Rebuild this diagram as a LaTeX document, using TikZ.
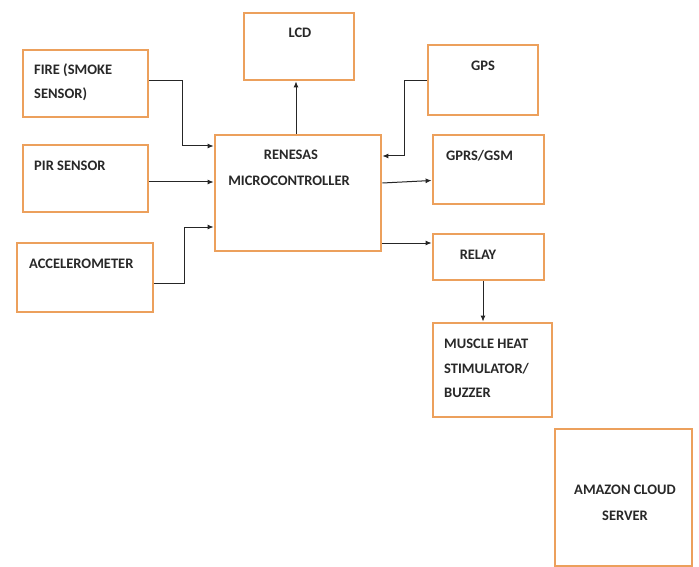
\documentclass[tikz,border=0pt]{standalone}
\usepackage{fontspec}
\setmainfont{Carlito}
\usetikzlibrary{arrows.meta,calc}
\definecolor{boxorange}{RGB}{236,160,92}
\definecolor{txtgray}{RGB}{40,40,40}
\begin{document}
\begin{tikzpicture}[x=1pt,y=-1pt,
  blk/.style={draw=boxorange,line width=2.8pt,fill=white,rectangle,inner sep=0pt},
  lbl/.style={font=\fontsize{14.5}{16}\selectfont\bfseries,text=txtgray,inner sep=0pt},
  lbll/.style={lbl,anchor=west},
  arr/.style={draw=black!85,line width=1pt,-{Latex[length=6pt,width=5pt]}}]
\useasboundingbox[fill=white] (0,0) rectangle (699,567);
% boxes
\node[blk,minimum width=110pt,minimum height=67pt] (lcd) at (299,46.5) {};
\node[blk,minimum width=125pt,minimum height=67pt] (fire) at (85.5,83.5) {};
\node[blk,minimum width=125pt,minimum height=67pt] (pir) at (85.5,178.5) {};
\node[blk,minimum width=136pt,minimum height=69pt] (acc) at (85,277.5) {};
\node[blk,minimum width=166pt,minimum height=116pt] (mcu) at (298,193) {};
\node[blk,minimum width=110pt,minimum height=70pt] (gps) at (483,80) {};
\node[blk,minimum width=111pt,minimum height=69pt] (gprs) at (488.5,169.5) {};
\node[blk,minimum width=111pt,minimum height=46pt] (relay) at (488.5,257) {};
\node[blk,minimum width=119pt,minimum height=94pt] (musc) at (492.5,370) {};
\node[blk,minimum width=137pt,minimum height=137pt] (aws) at (623.5,497.5) {};
% labels
\node[lbl] (lcdt) at (300,33) {LCD};
\node[lbll] (firet1) at (34,70) {FIRE (SMOKE};
\node[lbll] (firet2) at (34,94) {SENSOR)};
\node[lbll] (pirt) at (34,166) {PIR SENSOR};
\node[lbll] (acct) at (29,264) {ACCELEROMETER};
\node[lbl] (mcut1) at (291,155) {RENESAS};
\node[lbl] (mcut2) at (289,181) {MICROCONTROLLER};
\node[lbl] (gpst) at (483,66) {GPS};
\node[lbl] (gprst) at (479.5,156) {GPRS/GSM};
\node[lbl] (relayt) at (478,255) {RELAY};
\node[lbll] (musct1) at (444,344) {MUSCLE HEAT};
\node[lbll] (musct2) at (444,369) {STIMULATOR/};
\node[lbll] (musct3) at (444,393) {BUZZER};
\node[lbl] (awst1) at (625,490) {AMAZON CLOUD};
\node[lbl] (awst2) at (625,516) {SERVER};
% connectors
\draw[arr] ([yshift=2.5pt]fire.east) -- ++(33,0) |- ([yshift=47pt]mcu.west);
\draw[arr] ([yshift=-3.5pt]pir.east) -- ([yshift=11pt]mcu.west);
\draw[arr] ([yshift=-5.5pt]acc.east) -- ++(30,0) |- ([yshift=-34pt]mcu.west);
\draw[arr] ([xshift=-3pt]lcd.south |- mcu.north) -- ([xshift=-3pt]lcd.south);
\draw[arr] ([yshift=-1pt]gps.west) -- ++(-22,0) |- ([yshift=37pt]mcu.east);
\draw[arr] ([yshift=10pt]mcu.east) -- ([yshift=-11pt]gprs.west);
\draw[arr] ([yshift=-50pt]mcu.east) -- ([yshift=14pt]relay.west);
\draw[arr] ([xshift=-5.5pt]relay.south) -- ([xshift=-5.5pt]relay.south |- musc.north);
\end{tikzpicture}
\end{document}
